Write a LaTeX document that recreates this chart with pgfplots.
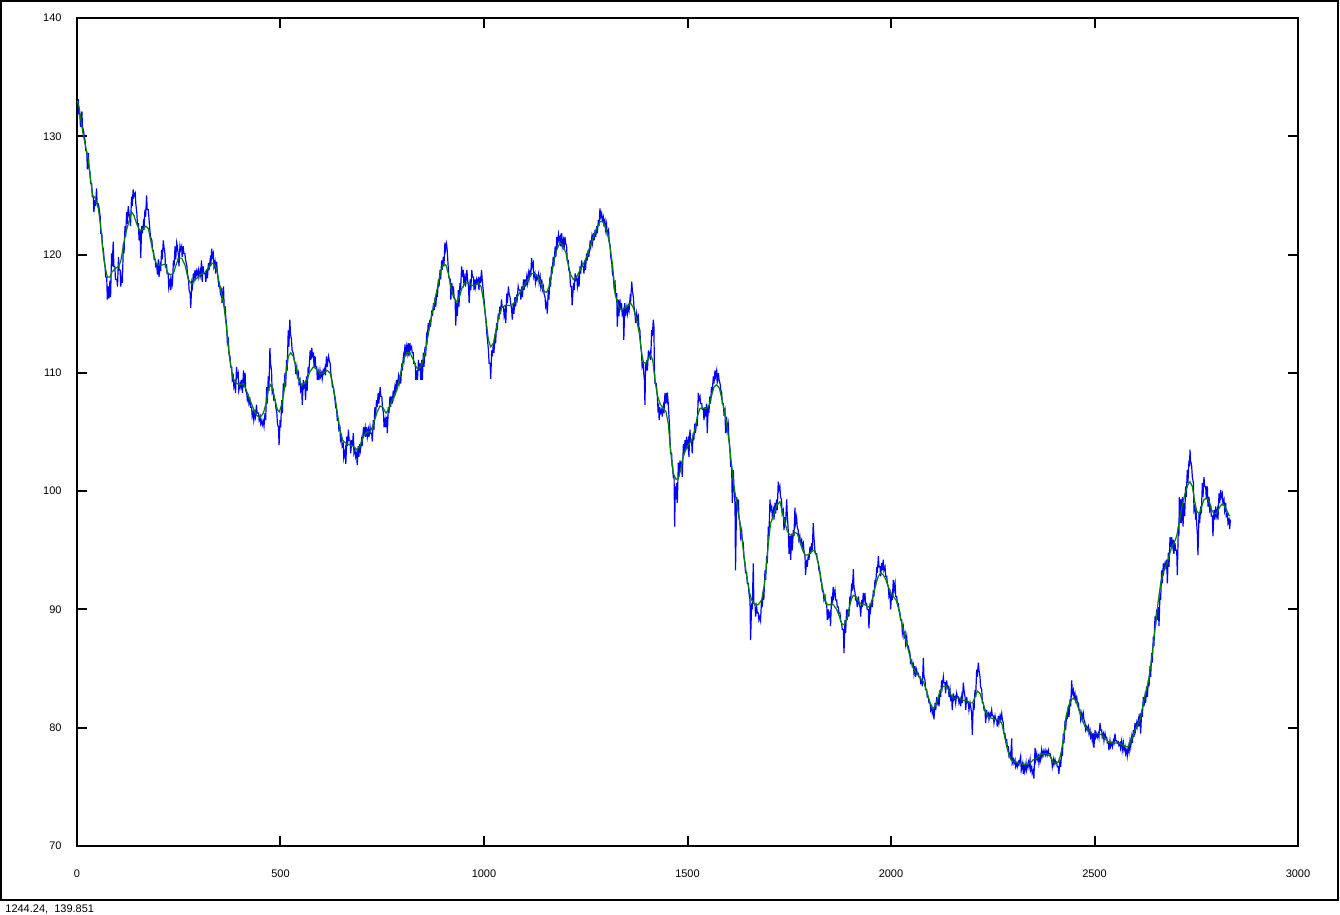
\documentclass[border=0pt]{standalone}
\usepackage{fontspec}
\setmainfont{Liberation Sans}
\usepackage{pgfplots}
\pgfplotsset{compat=1.18}
\definecolor{gpblue}{RGB}{0,0,255}
\definecolor{gpgreen}{RGB}{0,128,0}
\begin{document}
\begin{tikzpicture}
\useasboundingbox (0,0) rectangle (670pt,457.5pt);
% window frame and status line
\draw[line width=1pt] (0.5pt,7.5pt) rectangle (668.75pt,457pt);
\node[anchor=west,inner sep=0pt,font=\fontsize{5.5}{6}\selectfont] at (2.5pt,3pt) {1244.24,\ \ 139.851};
\begin{axis}[
  at={(38.5pt,34.5pt)}, anchor=south west,
  width=610.5pt, height=414pt, scale only axis,
  xmin=0, xmax=3000, ymin=70, ymax=140,
  xtick={0,500,...,3000}, ytick={70,80,...,140},
  tick align=inside, major tick length=5pt,
  axis line style={line width=1pt},
  every tick/.style={black, line width=1pt},
  tick label style={font=\fontsize{5.5}{6}\selectfont},
  /pgf/number format/assume math mode=true,
  /pgf/number format/1000 sep={},
  xticklabel style={anchor=center, yshift=-14pt},
  yticklabel style={anchor=east, inner sep=0pt, xshift=-7.5pt},
]
% raw series
\addplot[gpblue, line width=0.6pt] coordinates {
(1,133.1)(3,133.1)(4.5,131.9)(7,131.9)(8.5,130.8)(12,132.1)(13.5,130.8)(16,130.5)(17.5,130.1)(20,129.6)(21.5,128.8)(24,128.7)(25.5,127.2)(28,128.6)(29.5,127.4)(32,126.9)(33.5,126.0)(36,126.0)(37.5,124.9)(40,124.9)(41.5,123.6)(44,124.6)(45.5,124.1)(48,125.6)(49.5,124.3)(52,124.3)(53.5,124.1)(57,123.2)(58.5,121.8)(61,121.8)(62.5,120.7)(65,120.4)(66.5,119.6)(69,119.0)(70.5,118.1)(73,118.1)(74.5,116.2)(77,117.3)(78.5,116.3)(81,117.8)(82.5,116.4)(85,120.1)(86.5,119.0)(89,121.1)(90.5,119.0)(93,119.0)(94.5,117.9)(98,117.9)(99.5,117.3)
(102,119.8)(103.5,118.7)(106,118.7)(107.5,117.3)(110,118.1)(111.5,117.6)(114,121.0)(115.5,120.1)(118,122.4)(119.5,121.5)(122,123.6)(123.5,122.6)(126,124.1)(127.5,123.6)(130,122.9)(131.5,122.4)(134,124.9)(135.5,124.1)(138,125.5)(139.5,124.9)(143,125.2)(144.5,124.3)(147,123.5)(148.5,122.6)(151,122.6)(152.5,121.2)(155,122.1)(156.5,119.7)(159,122.4)(160.5,121.8)(163,122.6)(164.5,122.1)(167,123.8)(168.5,123.2)(171,125.0)(172.5,123.8)(175,123.8)(176.5,123.2)(179,122.1)(180.5,121.5)(184,121.2)(185.5,120.4)(188,120.3)(189.5,119.6)(192,119.6)(193.5,119.0)(196,119.1)(197.5,118.3)
(200,119.6)(201.5,118.1)(204,119.0)(205.5,118.6)(208,120.4)(209.5,119.6)(212,121.2)(213.5,120.7)(216,120.1)(217.5,119.0)(220,119.1)(221.5,118.4)(224,118.4)(225.5,117.2)(229,117.9)(230.5,117.0)(233,117.9)(234.5,117.6)(237,119.5)(238.5,119.0)(241,120.7)(242.5,119.6)(245,121.0)(246.5,120.7)(249,120.0)(250.5,119.0)(253,120.7)(254.5,120.4)(257,120.7)(258.5,119.8)(261,120.7)(262.5,120.1)(265,120.1)(266.5,119.6)(270,119.0)(271.5,118.4)(274,117.9)(275.5,117.0)(278,116.7)(279.5,115.5)(282,117.6)(283.5,117.3)(286,118.4)(287.5,117.9)(290,118.7)(291.5,118.1)(294,118.6)(295.5,118.3)(298,118.7)(299.5,118.1)(302,118.6)(303.5,118.3)
(306,119.5)(307.5,117.7)(310,119.0)(311.5,118.4)(315,118.4)(316.5,117.7)(319,118.7)(320.5,118.0)(323,119.3)(324.5,118.7)(327,119.5)(328.5,119.0)(331,120.5)(332.5,119.8)(335,120.1)(336.5,119.0)(339,119.4)(340.5,118.4)(343,119.4)(344.5,118.7)(347,117.8)(348.5,117.3)(351,117.3)(352.5,116.7)(355,117.0)(356.5,115.9)(360,117.3)(361.5,115.6)(364,115.6)(365.5,114.7)(368,113.9)(369.5,112.5)(372,112.8)(373.5,111.6)(376,111.4)(377.5,110.5)(380,110.5)(381.5,109.4)(384,109.7)(385.5,108.8)(388,109.1)(389.5,108.3)(392,110.5)(393.5,109.7)(396,110.0)(397.5,108.5)
(401,109.1)(402.5,108.8)(405,109.4)(406.5,108.3)(409,110.2)(410.5,108.8)(413,110.0)(414.5,108.5)(417,108.3)(418.5,107.7)(421,108.0)(422.5,107.4)(425,107.7)(426.5,107.1)(429,107.1)(430.5,106.3)(433,106.7)(434.5,106.0)(437,106.6)(438.5,106.3)(441,107.3)(442.5,106.6)(446,106.6)(447.5,106.0)(450,106.3)(451.5,105.7)(454,106.0)(455.5,105.6)(458,105.9)(459.5,105.5)(462,106.6)(463.5,106.0)(466,108.8)(467.5,107.4)(470,109.7)(471.5,108.5)(474,112.1)(475.5,110.8)(478,110.2)(479.5,108.3)(482,108.5)(483.5,107.7)(487,107.7)(488.5,107.1)(491,106.6)(492.5,105.7)(495,105.4)(496.5,103.9)(499,106.0)(500.5,105.4)
(503,107.7)(504.5,106.6)(507,109.1)(508.5,108.5)(511,110.0)(512.5,108.8)(515,111.1)(516.5,110.2)(519,113.6)(520.5,112.2)(523,114.5)(524.5,113.3)(527,112.8)(528.5,111.9)(532,111.6)(533.5,111.1)(536,110.8)(537.5,109.9)(540,110.5)(541.5,109.7)(544,110.0)(545.5,109.1)(548,109.4)(549.5,108.5)(552,108.8)(553.5,107.3)(556,109.4)(557.5,108.8)(560,109.1)(561.5,107.7)(564,109.7)(565.5,108.5)(568,110.5)(569.5,110.0)(573,111.9)(574.5,111.1)(577,112.1)(578.5,111.4)(581,111.6)(582.5,110.5)(585,111.4)(586.5,110.5)(589,110.5)(590.5,109.4)(593,110.0)(594.5,109.4)(597,110.2)(598.5,109.7)
(601,110.0)(602.5,109.5)(605,110.2)(606.5,110.0)(609,110.4)(610.5,109.8)(613,111.4)(614.5,110.5)(618,111.4)(619.5,111.1)(622,110.8)(623.5,110.0)(626,109.4)(627.5,108.8)(630,108.8)(631.5,108.3)(634,107.7)(635.5,107.1)(638,106.9)(639.5,106.0)(642,106.0)(643.5,105.2)(646,105.4)(647.5,104.3)(650,104.6)(651.5,103.8)(654,104.0)(655.5,102.8)(659,103.5)(660.5,102.3)(663,104.6)(664.5,103.8)(667,105.2)(668.5,104.3)(671,104.3)(672.5,103.2)(675,104.3)(676.5,103.8)(679,104.9)(680.5,103.2)(683,103.5)(684.5,102.9)(687,103.2)(688.5,102.2)(691,103.8)(692.5,102.9)(695,104.0)(696.5,103.5)(699,104.3)(700.5,103.8)
(704,105.4)(705.5,104.9)(708,105.4)(709.5,104.6)(712,105.4)(713.5,104.6)(716,105.2)(717.5,104.6)(720,105.4)(721.5,104.9)(724,104.9)(725.5,104.2)(728,106.0)(729.5,105.2)(732,107.1)(733.5,106.3)(736,107.7)(737.5,107.1)(740,108.3)(741.5,107.4)(745,108.8)(746.5,108.0)(749,108.0)(750.5,107.1)(753,106.6)(754.5,105.4)(757,106.0)(758.5,105.4)(761,106.3)(762.5,104.9)(765,107.1)(766.5,106.6)(769,108.0)(770.5,107.1)(773,108.0)(774.5,107.4)(777,108.5)(778.5,108.0)(781,108.8)(782.5,108.5)(785,109.4)(786.5,108.8)(790,109.7)(791.5,109.1)
(794,109.7)(795.5,109.1)(798,110.8)(799.5,110.2)(802,111.4)(803.5,111.1)(806,112.4)(807.5,111.4)(810,112.2)(811.5,111.7)(814,112.5)(815.5,111.4)(818,112.5)(819.5,112.0)(822,112.2)(823.5,111.7)(826,111.7)(827.5,110.8)(831,110.8)(832.5,109.4)(835,110.2)(836.5,109.4)(839,111.1)(840.5,110.2)(843,110.8)(844.5,109.4)(847,111.1)(848.5,109.4)(851,111.7)(852.5,110.5)(855,112.2)(856.5,111.4)(859,113.1)(860.5,112.8)(863,114.2)(864.5,113.6)(867,114.5)(868.5,113.9)(872,115.3)(873.5,114.8)(876,115.9)(877.5,115.3)(880,116.4)(881.5,115.6)(884,117.0)(885.5,116.4)(888,117.9)(889.5,117.3)
(892,118.7)(893.5,117.9)(896,119.5)(897.5,118.7)(900,119.8)(901.5,119.0)(904,121.0)(905.5,120.4)(908,120.9)(909.5,120.4)(912,119.0)(913.5,118.1)(917,117.9)(918.5,116.2)(921,117.6)(922.5,116.7)(925,117.3)(926.5,116.4)(929,116.2)(930.5,114.0)(933,115.9)(934.5,114.8)(937,117.0)(938.5,115.6)(941,117.6)(942.5,117.0)(945,119.0)(946.5,118.1)(949,118.7)(950.5,117.6)(953,118.1)(954.5,117.3)(958,118.7)(959.5,117.9)(962,117.3)(963.5,115.9)(966,117.9)(967.5,117.0)(970,118.7)(971.5,118.1)(974,118.1)(975.5,117.0)(978,117.9)(979.5,117.3)(982,117.9)(983.5,117.6)(986,117.9)(987.5,117.0)(990,118.1)(991.5,117.6)(994,118.7)(995.5,117.9)(998,117.0)(999.5,116.4)
(1003,115.0)(1004.5,114.5)(1007,113.3)(1008.5,112.8)(1011,111.9)(1012.5,110.8)(1015,110.8)(1016.5,109.5)(1019,111.9)(1020.5,111.4)(1023,112.5)(1024.5,111.7)(1027,113.3)(1028.5,112.5)(1031,114.2)(1032.5,113.6)(1035,115.0)(1036.5,114.5)(1039,115.6)(1040.5,115.0)(1043,116.2)(1044.5,115.6)(1048,115.6)(1049.5,114.8)(1052,115.3)(1053.5,114.2)(1056,116.7)(1057.5,115.9)(1060,117.3)(1061.5,116.7)(1064,116.4)(1065.5,115.9)(1068,115.3)(1069.5,114.5)(1072,115.9)(1073.5,115.0)(1076,116.4)(1077.5,115.6)(1080,116.4)(1081.5,116.2)(1084,117.3)(1085.5,117.0)(1089,117.0)(1090.5,116.2)(1093,117.3)(1094.5,116.4)(1097,117.9)(1098.5,117.0)
(1101,117.9)(1102.5,117.3)(1105,118.1)(1106.5,117.6)(1109,118.4)(1110.5,117.9)(1113,118.7)(1114.5,118.1)(1117,119.7)(1118.5,119.0)(1121,119.3)(1122.5,118.1)(1125,118.4)(1126.5,117.6)(1129,118.1)(1130.5,117.9)(1134,118.4)(1135.5,117.6)(1138,118.1)(1139.5,117.3)(1142,117.9)(1143.5,117.0)(1146,117.3)(1147.5,116.7)(1150,116.4)(1151.5,115.6)(1154,115.9)(1155.5,115.0)(1158,117.0)(1159.5,116.2)(1162,118.1)(1163.5,117.3)(1166,119.0)(1167.5,118.4)(1170,119.8)(1171.5,119.0)(1175,120.7)(1176.5,119.8)(1179,121.5)(1180.5,121.0)(1183,121.7)(1184.5,121.2)(1187,121.5)(1188.5,120.7)(1191,121.8)(1192.5,120.7)(1195,121.2)(1196.5,120.4)(1199,121.5)(1200.5,121.0)
(1203,120.7)(1204.5,119.5)(1207,119.5)(1208.5,118.7)(1211,118.4)(1212.5,117.3)(1215,117.3)(1216.5,115.7)(1220,117.6)(1221.5,117.0)(1224,118.4)(1225.5,117.9)(1228,118.1)(1229.5,117.3)(1232,117.9)(1233.5,117.3)(1236,119.0)(1237.5,118.4)(1240,119.5)(1241.5,119.0)(1244,119.0)(1245.5,118.4)(1248,119.5)(1249.5,118.7)(1252,120.1)(1253.5,119.5)(1256,120.4)(1257.5,119.8)(1261,121.2)(1262.5,120.7)(1265,121.5)(1266.5,121.0)(1269,121.8)(1270.5,121.2)(1273,122.1)(1274.5,121.5)(1277,122.4)(1278.5,121.8)(1281,122.9)(1282.5,122.4)(1285,123.9)(1286.5,123.2)(1289,123.5)(1290.5,122.9)(1293,123.2)(1294.5,122.6)(1297,122.9)(1298.5,122.1)
(1301,122.6)(1302.5,121.8)(1306,122.1)(1307.5,121.2)(1310,120.7)(1311.5,119.8)(1314,119.3)(1315.5,118.4)(1318,118.1)(1319.5,117.3)(1322,117.6)(1323.5,116.7)(1326,116.7)(1327.5,113.9)(1330,116.2)(1331.5,114.8)(1334,116.2)(1335.5,115.3)(1338,115.9)(1339.5,115.0)(1342,115.3)(1343.5,112.8)(1346,115.9)(1347.5,114.8)(1351,115.6)(1352.5,115.0)(1355,115.6)(1356.5,115.3)(1359,116.4)(1360.5,116.2)(1363,117.7)(1364.5,117.0)(1367,116.4)(1368.5,115.6)(1371,115.0)(1372.5,114.2)(1375,115.0)(1376.5,114.5)(1379,114.8)(1380.5,113.9)(1383,113.6)(1384.5,112.5)(1387,111.7)(1388.5,110.5)(1391,110.8)(1392.5,110.0)(1394,109.4)(1395.5,107.3)(1397,110.8)(1398.5,110.2)
(1400,111.1)(1401.5,110.2)(1404,111.9)(1405.5,111.4)(1408,111.7)(1409.5,111.1)(1412,113.6)(1413.5,113.1)(1416,114.5)(1417.5,113.9)(1418.5,110.8)(1420,109.1)(1423,109.1)(1424.5,108.6)(1426,108.0)(1427.5,106.9)(1429,107.1)(1430.5,106.0)(1432,107.1)(1433.5,106.6)(1436.5,106.9)(1438,106.3)(1440.6,107.1)(1442,106.6)(1444.7,108.3)(1446,107.4)(1448.8,108.3)(1450,107.7)(1451.3,108.0)(1452.8,107.4)(1454.5,106.3)(1455.8,105.5)(1457,104.3)(1458.5,103.2)(1461,103.2)(1462.3,102.1)(1463.5,102.1)(1465,101.2)(1467,101.2)(1468.5,97.0)(1470,100.4)(1471.5,99.3)(1473.4,100.7)(1475,99.0)(1477.5,102.4)(1479,101.2)(1481.6,102.6)(1483,102.1)(1485.7,102.4)(1487,101.2)
(1490,104.0)(1491.5,103.2)(1494,104.3)(1495.5,103.5)(1498,104.6)(1499.5,103.8)(1502,104.3)(1503.5,102.9)(1506,105.2)(1507.5,104.3)(1510,104.3)(1511.5,103.2)(1514,104.9)(1515.5,104.3)(1518,105.7)(1519.5,104.9)(1522.5,106.0)(1524,105.5)(1526.6,108.3)(1528,107.7)(1530.7,108.0)(1532,107.4)(1535,107.4)(1536.5,106.9)(1539,106.9)(1540.5,106.0)(1543,107.1)(1544.5,106.3)(1547,107.4)(1548.5,104.9)(1551,107.1)(1552.5,106.6)(1555,108.0)(1556.5,107.4)(1559,108.8)(1560.5,108.3)(1563.5,109.7)(1565,109.1)(1567.6,110.2)(1569,109.7)(1571.7,110.2)(1573,109.1)(1576,110.0)(1577.5,109.4)(1580,109.1)(1581.5,108.6)(1584,108.3)(1585.5,107.4)(1588,107.4)(1589.5,106.6)(1592,106.9)(1593.5,104.9)(1596,106.3)(1597.5,105.2)
(1600,105.7)(1601.5,104.6)(1604.4,103.5)(1606,102.1)(1608.5,102.1)(1610,99.0)(1612.6,101.8)(1614,100.4)(1616.7,99.0)(1618,93.3)(1620.8,99.5)(1622.3,98.4)(1625,99.3)(1626.5,97.8)(1629,97.3)(1630.5,96.2)(1633,96.7)(1634.5,95.9)(1637,95.6)(1638.5,94.5)(1641,93.9)(1642.5,93.1)(1645.4,93.1)(1647,92.2)(1649.5,92.2)(1651,91.4)(1653.6,90.8)(1655,87.4)(1657.6,90.5)(1659,90.0)(1661.7,93.9)(1663,90.5)(1665.8,90.5)(1667.3,89.4)(1670,90.2)(1671.5,89.7)(1674,89.7)(1675.5,89.1)(1678,89.4)(1679.5,89.1)(1682,90.8)(1683.5,90.2)(1686,91.6)(1687.5,90.8)(1690.4,93.3)(1692,92.5)(1694.5,94.5)(1696,93.9)(1698.6,97.0)(1700,96.2)
(1702.7,99.3)(1704,98.4)(1706.8,98.7)(1708.3,97.9)(1711,98.4)(1712.5,97.6)(1715,99.0)(1716.5,98.1)(1719,99.3)(1720.5,98.4)(1723,100.8)(1724.5,100.1)(1727,100.4)(1728.5,99.5)(1731,99.3)(1732.5,98.1)(1735.5,98.4)(1737,96.7)(1739.6,97.8)(1741,97.3)(1743.7,99.3)(1745,98.1)(1748,96.4)(1749.5,94.7)(1752,96.2)(1753.5,94.2)(1756,96.4)(1757.5,95.0)(1760,96.7)(1761.5,96.2)(1764,98.6)(1765.5,97.3)(1768,97.8)(1769.5,97.0)(1772,96.7)(1773.5,95.9)(1776,96.2)(1777.5,95.6)(1780.5,95.9)(1782,95.3)(1784.6,95.6)(1786,95.0)(1788.7,94.5)(1790,92.9)(1792.8,94.2)(1794.3,93.6)(1797,94.7)(1798.5,94.2)
(1801,95.3)(1802.5,94.7)(1805,95.6)(1806.5,95.0)(1809,97.3)(1810.5,96.2)(1813,95.0)(1814.5,94.7)(1817.4,94.7)(1819,94.2)(1821.5,93.9)(1823,93.3)(1825.6,93.1)(1827,92.5)(1829.7,92.2)(1831,91.6)(1833.8,91.4)(1835.3,90.8)(1838,91.1)(1839.5,90.5)(1842,90.5)(1843.5,89.1)(1846,90.0)(1847.5,89.4)(1850,89.7)(1851.5,88.6)(1854,91.1)(1855.5,90.5)(1858,91.9)(1859.5,91.1)(1862.4,91.6)(1864,90.8)(1866.5,90.8)(1868,90.2)(1870.6,90.2)(1872,89.7)(1874.7,89.7)(1876,89.1)(1878.8,88.8)(1880.3,88.3)(1883,88.3)(1884.5,86.3)(1887,89.1)(1888.5,88.0)(1891,90.0)(1892.5,89.1)(1895,90.0)(1896.5,89.4)(1899,91.1)(1900.5,90.5)
(1903.4,92.2)(1905,91.6)(1907.5,93.4)(1909,91.9)(1911.6,91.4)(1913,90.8)(1915.7,90.8)(1917,90.2)(1920,91.1)(1921.5,90.5)(1924,90.2)(1925.5,89.4)(1928,90.8)(1929.5,90.2)(1932,91.4)(1933.5,90.8)(1936,91.4)(1937.5,90.5)(1940,90.5)(1941.5,90.0)(1944.3,90.0)(1945.8,88.4)(1948.4,90.5)(1950,90.0)(1952.5,90.8)(1954,90.2)(1956.6,91.6)(1958,91.1)(1960.7,92.5)(1962,91.9)(1965,93.6)(1966.5,93.1)(1969,94.5)(1970.5,93.6)(1973,93.6)(1974.5,92.8)(1977,93.9)(1978.5,93.3)(1981,94.2)(1982.5,93.3)(1985.3,93.6)(1987,92.8)(1989.4,92.8)(1991,92.2)(1993.5,91.9)(1995,91.1)(1997.6,91.4)(1999,90.0)
(2001.7,91.4)(2003,90.8)(2005.8,92.5)(2007.3,91.6)(2010,92.2)(2011.5,91.1)(2014,91.1)(2015.5,90.5)(2018,90.5)(2019.5,90.0)(2022,89.7)(2023.5,89.1)(2026.3,89.1)(2028,88.0)(2030.3,88.5)(2032,87.7)(2034.4,88.0)(2036,87.1)(2038.5,87.7)(2040,86.9)(2042.6,86.9)(2044,86.6)(2046.7,86.3)(2048,85.5)(2050.8,85.7)(2052.3,85.2)(2055,85.4)(2056.5,84.6)(2059,85.2)(2060.5,84.3)(2063,84.9)(2064.5,84.6)(2067,84.6)(2068.5,84.3)(2071.3,84.3)(2073,83.8)(2075.4,84.0)(2077,83.5)(2079.5,85.9)(2081,84.3)(2083.6,84.0)(2085,83.2)(2087.7,83.2)(2089,82.6)(2091.8,82.6)(2093.3,82.1)(2096,82.1)(2097.5,81.5)
(2100,81.8)(2101.5,81.2)(2104,81.5)(2105.5,80.7)(2108.2,82.1)(2110,81.5)(2112.3,82.6)(2114,82.1)(2116.3,82.4)(2118,81.8)(2120.4,83.2)(2122,82.6)(2124.5,84.0)(2126,83.5)(2128.6,84.3)(2130,83.8)(2132.7,83.8)(2134,82.9)(2136.8,84.0)(2138.3,83.5)(2141,83.5)(2142.5,82.6)(2145,83.2)(2146.5,82.4)(2149,82.6)(2150.5,81.5)(2153.2,82.9)(2155,82.4)(2157.3,82.6)(2159,82.1)(2161.4,82.9)(2163,82.6)(2165.5,82.6)(2167,82.1)(2169.6,82.4)(2171,81.8)(2173.7,82.6)(2175,82.1)(2177.8,83.8)(2179.3,83.2)(2182,82.6)(2183.5,81.5)(2186,82.6)(2187.5,82.1)(2190,82.1)(2191.5,81.5)(2194.2,82.1)(2195.7,81.8)(2198.2,81.2)(2199.7,79.4)
(2202.3,82.1)(2204,81.5)(2206.4,83.2)(2208,82.6)(2210.5,84.9)(2212,84.3)(2214.6,85.5)(2216,84.9)(2218.7,84.3)(2220,83.5)(2223,83.2)(2224.5,82.1)(2227,82.1)(2228.5,81.5)(2231,81.5)(2232.5,80.4)(2235,81.5)(2236.5,81.0)(2239.2,81.2)(2240.7,80.7)(2243.3,81.2)(2245,81.0)(2247.4,81.5)(2249,81.0)(2251.5,81.0)(2253,80.4)(2255.6,81.0)(2257,80.7)(2259.7,80.7)(2261,80.1)(2263.8,81.0)(2265.3,80.4)(2268,81.0)(2269.5,80.7)(2272,81.2)(2273.5,80.7)(2276,80.4)(2277.5,79.5)(2280,79.5)(2281.5,79.0)(2284.2,79.0)(2285.7,78.4)(2288.3,78.4)(2290,77.6)(2292.4,77.8)(2294,77.3)(2296.5,79.1)(2298,77.0)
(2300.6,77.3)(2302,77.0)(2304.7,77.3)(2306,76.7)(2308.8,77.0)(2310.3,76.7)(2313,77.1)(2314.5,76.9)(2318.6,77.6)(2320,76.4)(2323.6,77.0)(2325,76.1)(2327,76.7)(2328.5,76.3)(2331.7,77.0)(2333,76.4)(2337.5,77.1)(2339,76.7)(2341.6,77.3)(2343,76.4)(2345.7,76.7)(2347,76.1)(2349.8,76.4)(2351,75.7)(2354,78.3)(2355.5,77.3)(2358,77.8)(2359.5,77.3)(2362,77.6)(2363.5,77.0)(2366,77.6)(2367.5,77.3)(2370,78.1)(2371.5,77.6)(2374,78.0)(2375.5,77.7)(2378.4,78.1)(2380,77.7)(2382.5,78.0)(2384,77.7)(2386.6,78.1)(2388,77.8)(2390.7,77.8)(2392,77.6)(2394.8,77.3)(2396.3,76.7)(2399,77.3)(2400.5,76.9)
(2403,77.3)(2404.5,77.0)(2407,77.1)(2408.5,76.7)(2411,76.7)(2412.5,76.1)(2415.3,77.3)(2417,76.7)(2419.4,78.1)(2421,77.6)(2423.5,79.5)(2425,78.7)(2427.6,80.6)(2429,79.8)(2431.7,81.2)(2433,80.7)(2435.8,81.8)(2437.3,80.9)(2440,82.4)(2441.5,81.8)(2444,84.0)(2445.5,82.9)(2448,83.2)(2449.5,82.6)(2452,82.9)(2453.5,82.3)(2456.2,82.6)(2458,82.1)(2460.3,82.1)(2462,81.5)(2464.4,81.5)(2466,80.7)(2468.5,81.2)(2470,80.7)(2472.6,81.2)(2474,80.7)(2476.7,80.4)(2478,79.8)(2480.8,80.1)(2482.3,79.8)(2485,80.1)(2486.5,79.5)(2489,79.8)(2490.5,79.2)(2493,79.5)(2494.5,78.9)(2497,79.5)(2498.5,78.3)
(2501.3,79.8)(2503,79.2)(2505.4,79.5)(2507,79.2)(2509.5,79.5)(2511,79.2)(2513.6,80.4)(2515,79.8)(2517.7,79.8)(2519,79.2)(2521.8,79.5)(2523.3,78.9)(2526,79.5)(2527.5,79.2)(2530,79.2)(2531.5,78.7)(2534,78.7)(2535.5,78.1)(2538,78.9)(2539.5,78.4)(2542.2,78.7)(2544,78.4)(2546.3,78.9)(2548,78.7)(2550.4,79.5)(2552,78.9)(2554.5,78.9)(2556,78.7)(2558.6,78.8)(2560,78.5)(2562.7,78.7)(2564,78.3)(2566.8,78.9)(2568.3,78.1)(2571,78.7)(2572.5,78.1)(2575,78.4)(2576.5,77.8)(2579,78.1)(2580.5,77.6)(2583.2,78.4)(2585,78.0)(2587.3,78.9)(2589,78.4)(2591.4,79.2)(2593,78.7)(2595.5,79.8)(2597,79.2)(2599.6,80.4)(2601,79.8)
(2603.7,80.4)(2605,80.1)(2607.7,80.7)(2609,80.1)(2611.8,81.2)(2613.3,79.5)(2616,81.5)(2617.5,80.9)(2620,82.6)(2621.5,81.8)(2624,82.6)(2625.5,82.1)(2628.2,83.5)(2630,82.6)(2632.3,84.0)(2634,83.5)(2636.4,85.2)(2638,84.3)(2640.5,86.3)(2642,85.5)(2644.6,87.7)(2646,86.9)(2648.7,89.4)(2650,88.6)(2652.8,90.0)(2654.3,89.1)(2657,90.2)(2658.5,88.6)(2661,91.4)(2662.5,90.8)(2665,93.3)(2666.5,92.2)(2669.2,93.9)(2670.7,93.3)(2673.3,93.9)(2675,93.6)(2677.4,94.2)(2679,92.2)(2681.5,94.8)(2683,93.6)(2685.6,96.1)(2687,95.3)(2689.6,96.1)(2691,95.3)(2693.7,95.9)(2695,94.7)(2697.8,95.6)(2699.3,95.0)
(2702,95.0)(2703.5,92.9)(2706,97.0)(2707.3,96.2)(2708.5,99.5)(2710,97.3)(2711.8,99.3)(2713.3,97.3)(2716,99.5)(2717.5,97.0)(2720,99.0)(2721.5,97.9)(2724,100.4)(2725.5,99.5)(2728,101.8)(2729.5,100.7)(2732.2,102.6)(2733.5,102.1)(2734.7,103.5)(2736,102.6)(2738.8,102.1)(2740.3,101.2)(2743,100.7)(2744.5,98.4)(2747,98.7)(2748.3,97.6)(2749.4,98.4)(2751,97.3)(2752.7,96.4)(2754.2,94.6)(2756.8,98.1)(2758.3,97.3)(2761,98.7)(2762.5,98.1)(2765,100.7)(2766.5,99.5)(2769,101.2)(2770.5,100.4)(2773.2,100.4)(2774.7,99.3)(2777.3,100.4)(2778.8,98.7)(2781.4,99.5)(2783,98.4)(2785.5,98.7)(2787,97.9)(2789.6,97.9)(2791,96.2)(2793.7,98.4)(2795,97.6)(2797.8,98.7)(2799.3,97.9)
(2801.8,98.4)(2803.3,97.6)(2806,99.8)(2807.5,99.0)(2810,100.1)(2811.5,99.5)(2814,99.8)(2815.5,99.0)(2818.2,99.3)(2819.7,98.4)(2822.3,99.0)(2823.8,97.9)(2826.4,98.1)(2828,97.3)(2830.5,97.6)(2832,96.8)(2834,97.6)
};
% smoothed series
\addplot[gpgreen, line width=0.6pt] coordinates {
(0.8,133.0)(4.9,132.5)(13.9,130.4)(19.7,129.4)(27.8,128.0)(33.6,126.3)(38.5,125.0)(44.2,124.8)(52.4,123.9)(58.1,122.4)(64.7,120.0)(68.8,119.0)(74.5,118.1)(81.1,118.1)(85.2,118.5)(93.4,118.8)(101.6,119.0)(107.3,119.4)(113.8,120.7)(119.6,121.8)(126.1,122.6)(134.3,123.6)(140,123.3)(146.6,122.6)(154.8,122.0)(163,122.2)(169.5,122.4)(175.3,122.2)(181,121.2)(187.6,120.1)(194.1,119.3)(199.8,119.1)(208,119.1)(216.2,119.2)(222,118.5)(228.5,118.3)(236.7,118.4)(243.2,119.1)(249,119.7)(257.2,119.7)(265.4,119.1)(273.5,117.9)(281.7,117.5)(287.5,117.8)(298.1,118.1)
(302.2,118.3)(314.5,118.5)(326.8,119.1)(335,119.3)(343.2,118.8)(347.2,118.0)(355.4,116.7)(361.2,115.6)(366.1,114.2)(370.2,112.8)(374.3,111.4)(380,110.2)(384.1,109.5)(392.3,109.1)(400.5,109.0)(408.7,109.1)(412.8,108.8)(418.5,108.3)(425,107.7)(433.2,107.0)(441.4,106.4)(449.6,106.2)(457.8,106.6)(464.4,107.4)(470.1,108.6)(475.8,109.0)(480.7,108.7)(486.5,107.7)(492.2,106.9)(497.1,106.7)(502.9,107.3)(508.6,108.4)(513.5,110.0)(519.2,111.4)(525,111.7)(531.5,111.4)(538.1,110.5)(543.8,109.5)(552,109.0)(560.2,109.1)(565.9,109.5)(572.5,110.1)(580.7,110.5)(588.9,110.3)(597.1,109.9)(605.2,110.0)(615,110.2)(621.6,110.0)(628.2,109.1)(633.9,108.0)(639.6,106.6)(646.2,105.2)(652.7,104.3)(662.6,104.0)(670.8,103.9)(679,103.8)(687.1,103.5)(695.3,103.8)(703.5,104.6)(711.7,105.0)(719.9,105.0)(728.1,105.6)(736.3,106.6)(744.5,107.2)(751,107.1)(759.2,106.6)(764.9,106.9)(773.1,107.6)(781.3,108.1)(789.5,109.0)
(793.6,109.7)(801.8,111.1)(810,111.7)(818.2,111.7)(826.4,111.1)(834.6,110.4)(841.1,110.4)(846.9,110.7)(855.1,111.7)(863.3,113.3)(871.5,114.9)(879.6,116.2)(887.8,117.6)(893.6,118.6)(900.1,119.2)(906.7,119.1)(912.4,118.4)(918.1,117.3)(924.7,116.4)(932.9,116.0)(939.4,116.4)(945.2,117.1)(953.4,117.6)(961.6,117.6)(969.7,117.4)(977.9,117.4)(986.1,117.6)(992.7,117.3)(998.4,116.2)(1005,114.5)(1010.7,112.8)(1016.4,112.2)(1023,112.5)(1029.5,113.6)(1035.2,114.6)(1043.4,115.5)(1051.6,115.7)(1059.8,115.7)(1068,115.7)(1076.2,116.0)(1084.4,116.6)(1092.6,117.0)(1100.8,117.5)(1109,117.9)(1117.1,118.4)(1125.3,118.4)(1133.5,118.1)(1141.7,117.4)(1147.4,116.9)(1154,116.8)(1159.7,117.3)(1166.3,118.4)(1172,119.5)(1178.6,120.4)(1186.8,121.0)(1195,120.7)(1201.5,120.1)(1207.2,119.1)(1213,118.3)(1219.5,117.9)(1227.7,118.1)(1235.9,118.7)(1244.1,119.2)(1252.3,119.8)(1260.5,120.7)(1268.7,121.5)(1276.9,122.2)(1285.1,122.8)(1291.6,122.8)(1297.3,122.4)(1303.1,121.8)(1309.6,120.7)(1316.2,119.0)
(1321.9,116.7)(1330,115.6)(1338.2,115.3)(1346.4,115.5)(1354.6,115.7)(1360.3,115.9)(1366.9,115.5)(1375.1,114.5)(1381.6,113.3)(1387.4,111.7)(1391.5,110.9)(1397.2,110.8)(1403.8,111.2)(1409.5,111.5)(1414.4,111.1)(1420.1,109.4)(1425.9,108.1)(1432.4,107.4)(1440.6,107.0)(1447.2,106.7)(1452.9,105.7)(1457,104.0)(1461.1,102.6)(1465.2,101.5)(1471.7,101.0)(1477.5,101.1)(1483.2,101.8)(1489.8,102.9)(1496.3,103.6)(1502,103.9)(1510.2,104.3)(1518.4,105.2)(1524.1,106.3)(1530.7,107.0)(1538.9,107.0)(1547.1,107.0)(1553.6,107.3)(1559.4,108.1)(1565.1,108.8)(1571.7,109.0)(1578.2,108.7)(1583.9,107.9)(1589.7,106.9)(1596.2,105.7)(1602.8,104.0)(1608.5,102.1)(1614.2,100.4)(1620.8,99.0)(1627.3,97.6)(1633.1,96.2)(1638.8,94.5)(1645.4,92.8)(1651.9,91.5)(1657.6,90.8)(1665.8,90.4)(1674,90.4)(1682.2,90.8)(1688,91.9)(1692.9,93.3)(1698.6,95.6)(1704.3,97.3)(1710.9,97.9)(1719.1,98.8)(1727.3,99.1)
(1733.8,98.1)(1739.6,97.3)(1745.3,96.6)(1751.9,96.3)(1758.4,96.3)(1764.2,96.5)(1769.9,96.4)(1776.4,95.7)(1783,95.0)(1788.7,94.6)(1796.9,94.6)(1805.1,94.9)(1810.8,95.0)(1817.4,94.5)(1824,93.5)(1829.7,92.2)(1836.2,91.1)(1842,90.4)(1850.2,90.4)(1858.3,90.4)(1866.5,90.0)(1873.1,89.4)(1878.8,88.8)(1884.5,88.7)(1891.1,89.1)(1896.8,90.0)(1901.7,90.8)(1907.5,91.2)(1914,91.1)(1919.8,90.7)(1928,90.4)(1936.2,90.4)(1944.3,90.2)(1950.1,90.4)(1956.6,91.2)(1963.2,92.2)(1968.9,92.8)(1974.6,93.1)(1981.2,92.9)(1987.7,92.5)(1993.5,91.9)(2000,91.4)(2005.8,91.1)(2014,90.7)(2022.2,89.5)(2030.3,88.3)(2038.5,87.1)(2046.7,86.0)(2054.9,85.0)(2063.1,84.6)(2071.3,84.2)(2079.5,83.9)(2087.7,83.1)(2095.9,82.1)(2102.4,81.6)(2108.2,81.8)(2113.9,82.3)(2120.4,83.1)(2128.6,83.5)(2136.8,83.5)(2145,82.9)(2153.2,82.5)(2161.4,82.5)(2169.6,82.5)(2177.8,82.3)(2186,82.3)(2194.2,82.1)(2200.7,82.1)(2206.4,82.6)(2212.2,83.1)(2218.7,82.9)(2225.3,82.2)(2231,81.5)(2239.2,80.9)(2247.4,80.8)(2255.6,80.7)(2263.8,80.7)(2272,80.4)(2277.7,79.5)(2284.2,78.4)(2290.8,77.6)(2296.5,77.2)(2304.7,77.1)(2312.9,77.0)
(2325.2,76.9)(2333.4,76.9)(2341.6,77.0)(2349.8,77.3)(2358,77.4)(2366.1,77.7)(2374.3,77.8)(2382.5,77.8)(2390.7,77.6)(2397.3,77.1)(2403,77.0)(2411.2,77.1)(2416.9,77.7)(2423.5,79.0)(2430,80.9)(2435.8,81.8)(2443.9,82.4)(2449.7,82.5)(2456.2,82.1)(2462.8,81.4)(2468.5,80.8)(2476.7,80.1)(2484.9,79.8)(2493.1,79.5)(2501.3,79.5)(2509.5,79.5)(2517.7,79.4)(2525.8,79.1)(2534,78.8)(2542.2,78.7)(2550.4,78.7)(2558.6,78.7)(2566.8,78.6)(2575,78.4)(2583.2,78.4)(2591.4,79.0)(2599.6,79.8)(2607.7,80.4)(2613.5,80.9)(2620,82.1)(2626.6,83.1)(2632.3,83.9)(2638,85.2)(2644.6,87.1)(2651.2,89.1)(2656.9,90.8)(2662.6,92.2)(2669.2,93.2)(2677.4,93.8)(2683.9,94.6)(2689.6,95.3)(2695.4,95.6)(2701.9,96.2)(2708.5,97.4)(2715,98.7)(2722.4,99.8)(2729,100.5)(2734.7,100.8)(2740.4,100.4)(2745.3,99.3)(2751.1,98.3)(2757.6,98.1)(2763.4,98.7)(2769.1,99.3)(2775.6,99.4)(2782.2,99.1)(2787.9,98.4)(2793.7,98.1)(2800.2,98.1)(2806.8,98.6)(2812.5,98.9)(2818.2,98.8)(2824.8,98.4)(2831.3,97.9)
};
\end{axis}
\end{tikzpicture}
\end{document}
